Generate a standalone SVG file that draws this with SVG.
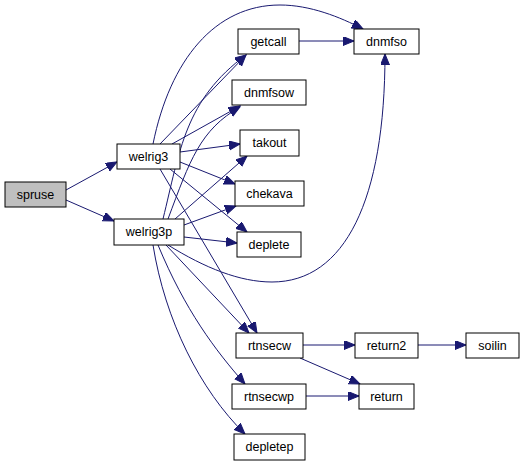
<svg xmlns="http://www.w3.org/2000/svg" width="524" height="466" viewBox="0 0 524 466">
<style>
.n rect{fill:#fff;stroke:#000;stroke-width:1}
.n text{font-family:"Liberation Sans",Arial,sans-serif;font-size:12.5px;text-anchor:middle;fill:#000}
#edges path{fill:none;stroke:#191970;stroke-width:1;marker-end:url(#ah)}
</style>
<defs>
<marker id="ah" markerUnits="userSpaceOnUse" markerWidth="13" markerHeight="10" refX="11" refY="4.5" orient="auto">
<path d="M0,0 L11,4.5 L0,9 z" fill="#191970" stroke="#191970" stroke-width="1"/>
</marker>
</defs>
<rect width="524" height="466" fill="#fff"/>
<g id="edges">
<path d="M66,190 L117,162"/>
<path d="M66,200 L114,221"/>
<path d="M160,144 L246,55"/>
<path d="M153,144 C170,60 215,5 280,5 C310,5 340,17 363,29"/>
<path d="M172,144 L240,106"/>
<path d="M180,152 L240,144"/>
<path d="M180,162 L235,184"/>
<path d="M170,169 L247,232"/>
<path d="M160,169 L257,333"/>
<path d="M163,219 C180,150 185,100 246,55"/>
<path d="M168,219 C190,160 200,130 240,107"/>
<path d="M175,219 L247,156"/>
<path d="M184,225 L236,206"/>
<path d="M184,237 L237,243"/>
<path d="M168,245 C205,268 240,282 272,282 C345,282 385,200 385,54"/>
<path d="M166,245 L249,333"/>
<path d="M158,245 C185,310 215,350 245,384"/>
<path d="M153,245 C165,320 200,390 245,434"/>
<path d="M299,41 L354,41"/>
<path d="M303,345 L355,345"/>
<path d="M418,345 L466,345"/>
<path d="M300,358 L360,384"/>
<path d="M306,396 L359,396"/>
</g>
<g id="spruse" class="n"><rect x="5" y="182" width="61" height="25" style="fill:#bfbfbf"/><text x="35.5" y="199">spruse</text></g>
<g id="welrig3" class="n"><rect x="117" y="144" width="63" height="25"/><text x="148.5" y="161">welrig3</text></g>
<g id="welrig3p" class="n"><rect x="114" y="219" width="70" height="26"/><text x="149" y="236">welrig3p</text></g>
<g id="getcall" class="n"><rect x="238" y="29" width="61" height="25"/><text x="268.5" y="46">getcall</text></g>
<g id="dnmfso" class="n"><rect x="354" y="29" width="65" height="25"/><text x="386.5" y="46">dnmfso</text></g>
<g id="dnmfsow" class="n"><rect x="232" y="80" width="74" height="25"/><text x="269" y="97">dnmfsow</text></g>
<g id="takout" class="n"><rect x="240" y="130" width="59" height="26"/><text x="269.5" y="147">takout</text></g>
<g id="chekava" class="n"><rect x="235" y="181" width="69" height="25"/><text x="269.5" y="198">chekava</text></g>
<g id="deplete" class="n"><rect x="237" y="232" width="64" height="25"/><text x="269" y="249">deplete</text></g>
<g id="rtnsecw" class="n"><rect x="236" y="333" width="67" height="25"/><text x="269.5" y="350">rtnsecw</text></g>
<g id="return2" class="n"><rect x="355" y="333" width="63" height="25"/><text x="386.5" y="350">return2</text></g>
<g id="soilin" class="n"><rect x="466" y="333" width="53" height="25"/><text x="492.5" y="350">soilin</text></g>
<g id="rtnsecwp" class="n"><rect x="232" y="384" width="74" height="25"/><text x="269" y="401">rtnsecwp</text></g>
<g id="return" class="n"><rect x="359" y="384" width="55" height="25"/><text x="386.5" y="401">return</text></g>
<g id="depletep" class="n"><rect x="234" y="434" width="71" height="26"/><text x="269.5" y="451">depletep</text></g>
</svg>
